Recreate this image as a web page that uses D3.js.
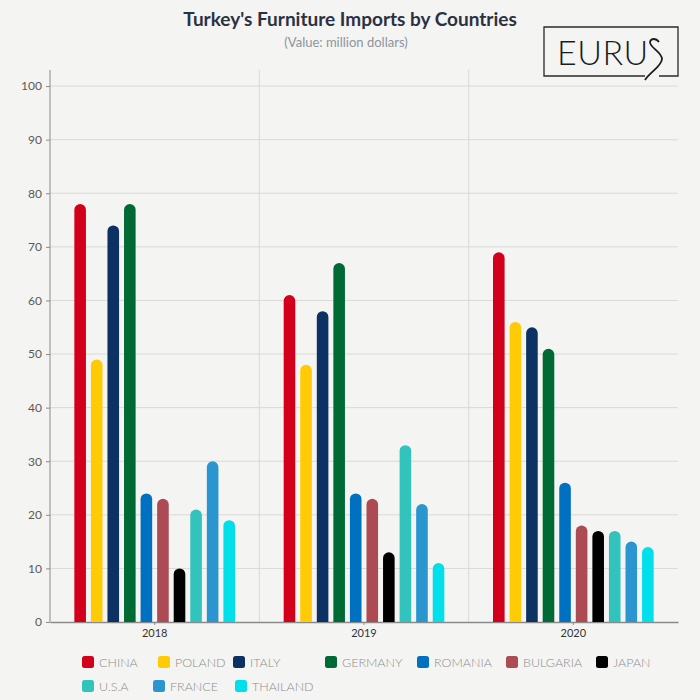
<!DOCTYPE html>
<html>
<head>
<meta charset="utf-8">
<script src="https://cdn.jsdelivr.net/npm/d3@7"></script>
<style>
html,body{margin:0;padding:0;background:#f4f4f2;}
svg{display:block;font-family:Lato,"Open Sans",sans-serif;}
</style>
</head>
<body>
<svg id="chart" width="700" height="700"></svg>
<script>
// ---- data ----
const years = ["2018", "2019", "2020"];
const countries = ["CHINA","POLAND","ITALY","GERMANY","ROMANIA","BULGARIA","JAPAN","U.S.A","FRANCE","THAILAND"];
const colors = ["#d2001a","#ffcb05","#0c3263","#006a35","#0070c0","#ad4b55","#000000","#33c3bd","#2a95cf","#00dfea"];
const values2018 = [78, 49, 74, 78, 24, 23, 10, 21, 30, 19];
const values2019 = [61, 48, 58, 67, 24, 23, 13, 33, 22, 11];
const values2020 = [69, 56, 55, 51, 26, 18, 17, 17, 15, 14];
const yTicks = [0,10,20,30,40,50,60,70,80,90,100];
const title = "Turkey's Furniture Imports by Countries";
const subtitle = "(Value: million dollars)";

const seriesByYear = [values2018, values2019, values2020];

(function(){
// ---- layout ----
const svg = d3.select("#chart");
svg.append("rect").attr("width",700).attr("height",700).attr("fill","#f4f4f2");

const pL = 50, pR = 678, pT = 70, pB = 622;
const y = d3.scaleLinear().domain([0, 103]).range([pB, pT]);
const x0 = d3.scaleBand().domain(years).range([pL, pR]).padding(0);
const x1 = d3.scaleBand().domain(countries).range([0, x0.bandwidth()]).paddingInner(0.3).paddingOuter(1.47);

// title
svg.append("text").attr("x",350).attr("y",26).attr("text-anchor","middle")
  .attr("font-size",19).attr("font-weight",700).attr("fill","#2b3142").text(title);
svg.append("text").attr("x",346).attr("y",47).attr("text-anchor","middle")
  .attr("font-size",13).attr("fill","#8d93a0").text(subtitle);

// logo
const logo = svg.append("g");
logo.append("path")
  .attr("d","M645,76 L544,76 L544,27 L678,27 L678,76 L659,76")
  .attr("fill","none").attr("stroke","#2a2a2a").attr("stroke-width",1.3);
logo.append("text").attr("x",557).attr("y",65).attr("font-size",34).attr("font-weight",300)
  .attr("fill","#1c1c1c").attr("letter-spacing",0.5).text("EURU");
logo.append("path")
  .attr("d","M659,42 C656,38 651,38 650,42 C649,47 662,52 662,59 C662,66 650,72 645,80")
  .attr("fill","none").attr("stroke","#1c1c1c").attr("stroke-width",1.8);

// grid
const grid = svg.append("g");
grid.selectAll("line.h").data(yTicks.filter(d=>d>0)).join("line")
  .attr("x1",pL).attr("x2",pR).attr("y1",d=>y(d)).attr("y2",d=>y(d))
  .attr("stroke","#d9d9d7").attr("stroke-width",1);
grid.selectAll("line.v").data(years.slice(1)).join("line")
  .attr("x1",d=>x0(d)).attr("x2",d=>x0(d)).attr("y1",pT).attr("y2",pB)
  .attr("stroke","#d9d9d7").attr("stroke-width",1);

// y axis
const yAxis = svg.append("g").attr("transform",`translate(${pL},0)`)
  .call(d3.axisLeft(y).tickValues(yTicks).tickSize(4).tickPadding(4));
yAxis.select(".domain").attr("stroke","#8a8a8a").attr("d",`M0,${pT}V${pB}`);
yAxis.selectAll(".tick line").attr("stroke","#8a8a8a");
yAxis.selectAll(".tick text").attr("font-size",12).attr("fill","#5a5a5a").attr("font-family","Lato,sans-serif");

// x axis
const xAxis = svg.append("g").attr("transform",`translate(0,${pB})`)
  .call(d3.axisBottom(x0).tickSize(3).tickPadding(4).tickSizeOuter(0));
xAxis.select(".domain").attr("stroke","#8a8a8a").attr("stroke-width",1.5);
xAxis.selectAll(".tick line").attr("stroke","#8a8a8a");
xAxis.selectAll(".tick text").attr("font-size",11).attr("fill","#333").attr("font-family","Lato,sans-serif");

// bars
function roundTopBar(x, yTop, w, yBase){
  const r = Math.min(w/2, (yBase-yTop));
  return `M${x},${yBase}V${yTop+r}A${r},${r} 0 0 1 ${x+w},${yTop+r}V${yBase}Z`;
}
const groups = svg.append("g").selectAll("g").data(years).join("g")
  .attr("transform",d=>`translate(${x0(d)},0)`);
groups.selectAll("path").data((d,i)=>countries.map((c,j)=>({c, v: seriesByYear[i][j], color: colors[j]})))
  .join("path")
  .attr("d",d=>roundTopBar(x1(d.c), y(d.v), x1.bandwidth(), y(0)))
  .attr("fill",d=>d.color);

// legend
const legendPos = [[82,662],[158,662],[233,662],[325,662],[417,662],[506,662],[596,662],[82,686],[153,686],[235,686]];
const lg = svg.append("g").selectAll("g").data(countries).join("g")
  .attr("transform",(d,i)=>`translate(${legendPos[i][0]},${legendPos[i][1]})`);
lg.append("rect").attr("x",0).attr("y",-6).attr("width",12).attr("height",12).attr("rx",2.5)
  .attr("fill",(d,i)=>colors[i]);
lg.append("text").attr("x",17).attr("y",4.5).attr("font-size",12.5).attr("fill","#8e8e8e")
  .attr("font-weight",300).text(d=>d);
})();
</script>
</body>
</html>
